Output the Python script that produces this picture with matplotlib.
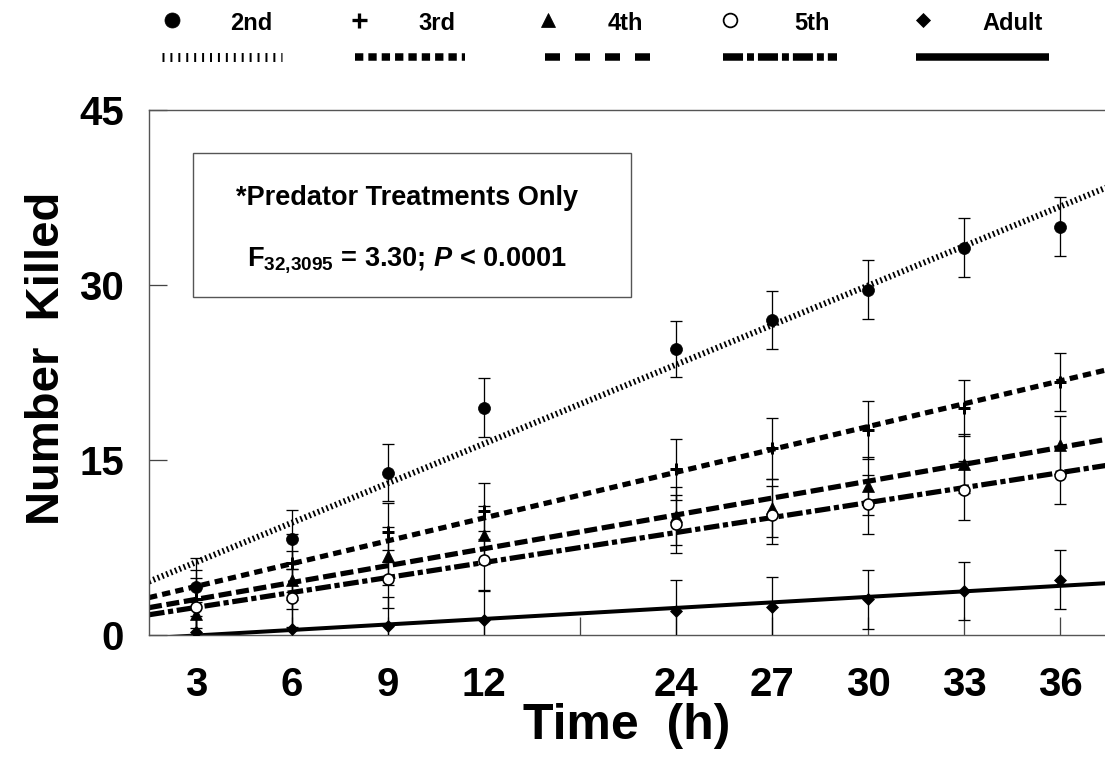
import numpy as np
import matplotlib
matplotlib.use("Agg")
import matplotlib.pyplot as plt
from matplotlib.lines import Line2D
from matplotlib.patches import Rectangle

plt.rcParams['font.family'] = ['Liberation Sans', 'DejaVu Sans']
plt.rcParams['font.weight'] = 'bold'
plt.rcParams['mathtext.fontset'] = 'custom'
plt.rcParams['mathtext.rm'] = 'Liberation Sans:bold'
plt.rcParams['mathtext.bf'] = 'Liberation Sans:bold'
plt.rcParams['mathtext.it'] = 'Liberation Sans:bold:italic'

# ---------------- data ----------------
time_labels = ["3", "6", "9", "12", "", "24", "27", "30", "33", "36"]
positions = [1, 2, 3, 4, 6, 7, 8, 9, 10]          # category slots holding data

series_names = ["2nd", "3rd", "4th", "5th", "Adult"]
killed_2nd   = [4.1, 8.2, 13.9, 19.5, 24.5, 27.0, 29.6, 33.2, 35.0]
killed_3rd   = [3.1, 6.2, 8.8, 10.6, 14.2, 16.0, 17.6, 19.5, 21.7]
killed_4th   = [1.8, 4.7, 6.8, 8.6, 10.2, 10.9, 12.8, 14.7, 16.3]
killed_5th   = [2.4, 3.2, 4.8, 6.4, 9.5, 10.3, 11.2, 12.4, 13.7]
killed_adult = [0.3, 0.5, 0.8, 1.3, 2.1, 2.4, 3.06, 3.8, 4.75]

err_2nd   = [2.5, 2.5, 2.45, 2.5, 2.4, 2.5, 2.5, 2.5, 2.5]
err_3rd   = [2.5, 2.5, 2.5, 2.4, 2.6, 2.6, 2.5, 2.4, 2.5]
err_4th   = [2.5, 2.5, 2.5, 2.5, 2.5, 2.5, 2.5, 2.5, 2.5]
err_5th   = [2.5, 2.5, 2.5, 2.5, 2.5, 2.5, 2.5, 2.5, 2.5]
err_adult = [2.5, 2.5, 2.5, 2.5, 2.6, 2.6, 2.55, 2.5, 2.55]

y_ticks = [0, 15, 30, 45]

# ---------------- figure ----------------
W, H = 1105, 771
fig = plt.figure(figsize=(W / 100, H / 100), dpi=100)

def fx(px):
    return px / W

def fy(py):
    return 1 - py / H

ax_left, ax_right, ax_top, ax_bot = 149, 1112, 110, 635
ax = fig.add_axes([fx(ax_left), fy(ax_bot), fx(ax_right - ax_left), (ax_bot - ax_top) / H])

slot_px = 96.0
x0 = 1 - (196 - ax_left) / slot_px
x1 = x0 + (ax_right - ax_left) / slot_px
ax.set_xlim(x0, x1)
ax.set_ylim(0, 45)

PT = 0.72  # points per pixel at 100 dpi

styles = {
    "2nd":   dict(marker='o', mfc='black', ms=12 * PT, mew=0.5,
                  lw=6 * PT, dashes=(0.3, 0.48)),
    "3rd":   dict(marker='+', mfc='black', ms=12 * PT, mew=3 * PT,
                  lw=5.2 * PT, dashes=(1.6, 1.0)),
    "4th":   dict(marker='^', mfc='black', ms=11.5 * PT, mew=0.5,
                  lw=5.2 * PT, dashes=(2.5, 0.9)),
    "5th":   dict(marker='o', mfc='white', ms=11 * PT, mew=1.6 * PT,
                  lw=5.2 * PT, dashes=(3.0, 0.7, 1.0, 0.7)),
    "Adult": dict(marker='D', mfc='black', ms=8.2 * PT, mew=0.5,
                  lw=4 * PT, dashes=None),
}

values = [killed_2nd, killed_3rd, killed_4th, killed_5th, killed_adult]
errors = [err_2nd, err_3rd, err_4th, err_5th, err_adult]

xfit = np.array([x0, x1])
for name, vals, errs in zip(series_names, values, errors):
    st = styles[name]
    # regression trend line (fit over category slots)
    k, b = np.polyfit(positions, vals, 1)
    ln, = ax.plot(xfit, k * xfit + b, color='black', lw=st['lw'],
                  solid_capstyle='butt', zorder=2)
    if st['dashes'] is not None:
        ln.set_dashes(st['dashes'])
        ln.set_dash_capstyle('butt')
    # error bars
    ax.errorbar(positions, vals, yerr=errs, fmt='none', ecolor='black',
                elinewidth=1.3 * PT, capsize=6 * PT, capthick=1.3 * PT, zorder=3)
    # markers
    ax.plot(positions, vals, linestyle='none', marker=st['marker'],
            markersize=st['ms'], markerfacecolor=st['mfc'],
            markeredgecolor='black', markeredgewidth=st['mew'], zorder=4)

# axes cosmetics
ax.set_xticks(range(1, len(time_labels) + 1))
ax.set_xticklabels(time_labels)
ax.set_yticks(y_ticks)
ax.tick_params(axis='both', direction='in', length=13, width=1.3 * PT,
               color='#444444', labelsize=29)
ax.tick_params(axis='x', pad=22)
ax.tick_params(axis='y', pad=18)
for lab in ax.get_xticklabels() + ax.get_yticklabels():
    lab.set_fontweight('bold')
for sp in ax.spines.values():
    sp.set_linewidth(1.4 * PT)
    sp.set_color('#555555')

# axis titles
fig.text(fx(627), fy(726), "Time  (h)", fontsize=36, fontweight='bold',
         ha='center', va='center')
fig.text(fx(47), fy(358), "Number  Killed", fontsize=34, fontweight='bold',
         ha='center', va='center', rotation=90)

# stats box
fig.add_artist(Rectangle((fx(193), fy(297)), fx(631 - 193), (297 - 153) / H,
                         transform=fig.transFigure, facecolor='white',
                         edgecolor='#555555', lw=1.4 * PT, zorder=5))
fig.text(fx(407), fy(198), "*Predator Treatments Only", fontsize=19.5,
         fontweight='bold', ha='center', va='center', zorder=6)
fig.text(fx(407), fy(260),
         r"$\mathrm{F}_{\mathrm{32{,}3095}}$ = 3.30; $P$ < 0.0001",
         fontsize=19.5, fontweight='bold', ha='center', va='center', zorder=6)

# legend (top, outside plot)
leg_marker_x = [172, 359, 548, 730, 923]
leg_label_x = [251, 437, 625, 812, 1013]
leg_line_x = [(162, 282), (355, 465), (545, 650), (723, 837), (916, 1049)]
leg_dashes = {"2nd": (0.22, 0.66), "3rd": (1.11, 0.67), "4th": (2.0, 2.0),
              "5th": (2.67, 0.53, 0.93, 0.53), "Adult": None}
leg_lw = {"2nd": 9 * PT, "3rd": 7.5 * PT, "4th": 7.5 * PT, "5th": 7.5 * PT,
          "Adult": 7.5 * PT}
for i, name in enumerate(series_names):
    st = styles[name]
    fig.add_artist(Line2D([fx(leg_marker_x[i])], [fy(20)], linestyle='none',
                          marker=st['marker'], markersize=st['ms'] * 1.25,
                          markerfacecolor=st['mfc'], markeredgecolor='black',
                          markeredgewidth=st['mew'] * 1.1, transform=fig.transFigure))
    fig.text(fx(leg_label_x[i]), fy(23), name, fontsize=17, fontweight='bold',
             ha='center', va='center')
    xa, xb = leg_line_x[i]
    ln = Line2D([fx(xa), fx(xb)], [fy(56.5), fy(56.5)], color='black',
                lw=leg_lw[name], solid_capstyle='butt', transform=fig.transFigure)
    if leg_dashes[name] is not None:
        ln.set_dashes(leg_dashes[name])
        ln.set_dash_capstyle('butt')
    fig.add_artist(ln)

fig.savefig("out.png", dpi=100)
